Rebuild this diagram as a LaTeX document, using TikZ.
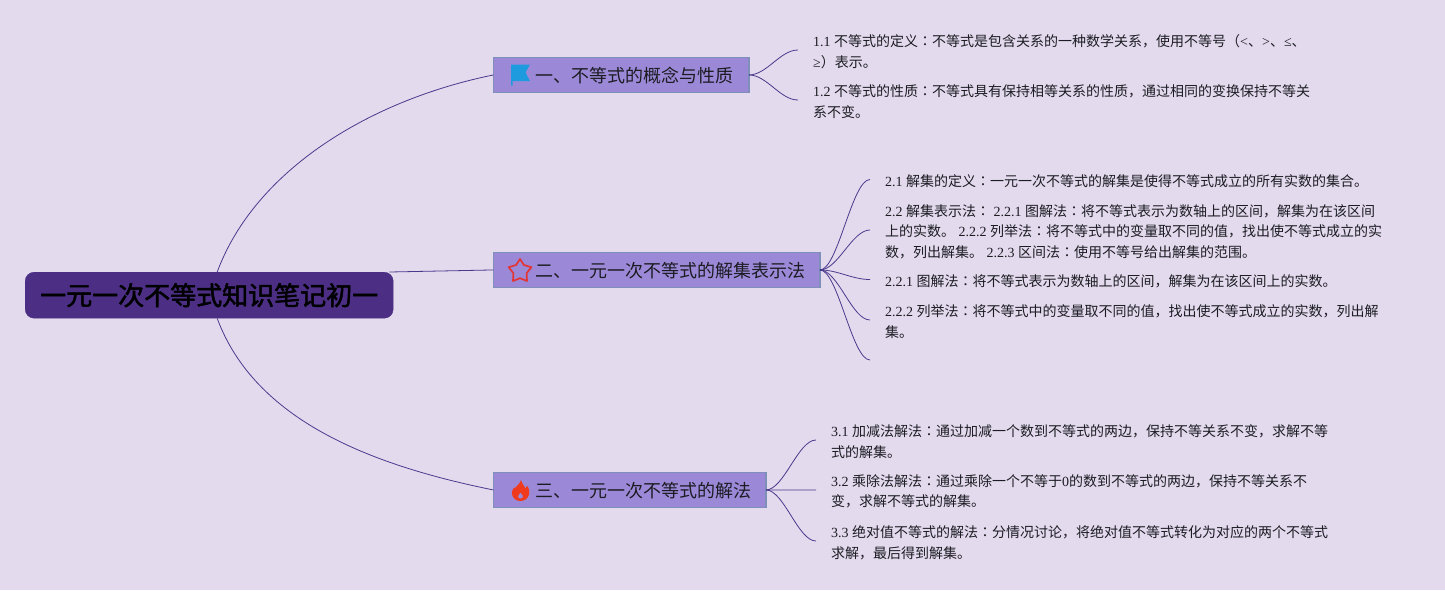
\documentclass[tikz,border=0pt]{standalone}
\usepackage{fontspec}
\setmainfont{Noto Sans CJK SC}
\newfontfamily\latf{Liberation Serif}
\newfontfamily\tcf{Noto Sans CJK TC}
\newfontfamily\rootf[FakeBold=2]{Noto Sans CJK SC}
\newcommand\latn[1]{{\latf #1}}
\newcommand\zhcolon{{\tcf ：}}
\definecolor{bg}{HTML}{E3DAEE}
\definecolor{rootfill}{HTML}{4C2F84}
\definecolor{branchfill}{HTML}{9B89D8}
\definecolor{branchline}{HTML}{7E90BA}
\definecolor{linkc}{HTML}{4A3A8C}
\definecolor{txt}{HTML}{1C1C22}
\definecolor{flagc}{HTML}{1E9BDE}
\definecolor{starc}{HTML}{E23434}
\definecolor{flamec}{HTML}{F03A1E}
\tikzset{
  rootbox/.style={draw=rootfill,fill=rootfill,rounded corners=9pt,minimum width=368pt,minimum height=46pt,inner sep=0pt,anchor=north west,font=\fontsize{26}{30}\rootf,text=black},
  branchbox/.style={draw=branchline,fill=branchfill,line width=1.2pt,minimum height=35.5pt,inner sep=0pt,outer sep=0pt,anchor=north west},
  branchtext/.style={anchor=west,inner sep=0pt,font=\fontsize{18}{22}\selectfont,text=txt},
  leaf/.style={anchor=west,inner xsep=15pt,inner ysep=0pt,align=left,font=\fontsize{14}{20.6}\selectfont,text=txt},
  link/.style={draw=linkc,line width=0.8pt},
  sub/.style={draw=linkc,line width=0.8pt,out=0,in=180,distance=18pt}
}
\begin{document}
\begin{tikzpicture}[x=1pt,y=-1pt]
\useasboundingbox (0,0) rectangle (1445,590);
\fill[bg] (0,0) rectangle (1445,590);

\node[rootbox] (root) at (25,272) {一元一次不等式知识笔记初一};

\node[branchbox,minimum width=255.5pt] (b1) at (493.4,57.2) {};
\node[branchtext] (t1) at (535,76) {一、不等式的概念与性质};
\node[branchbox,minimum width=326.5pt] (b2) at (493.4,252.2) {};
\node[branchtext] (t2) at (535,271) {二、一元一次不等式的解集表示法};
\node[branchbox,minimum width=272.5pt] (b3) at (493.4,472.2) {};
\node[branchtext] (t3) at (535,491) {三、一元一次不等式的解法};

% icons
\fill[flagc] (511,64.5) -- (530,64.5) -- (525.5,72.5) -- (530,81) -- (512.5,81) -- (512.5,85.5) -- (511,85.5) -- cycle;
\draw[starc,line width=1.7pt,line join=round]
  (520,259) -- (523.9,265.0) -- (531.4,267.2) -- (526.6,273.2) -- (527,281) -- (520,278.2) -- (513,281) -- (513.4,273.2) -- (508.6,267.2) -- (516.1,265.0) -- cycle;
\fill[flamec,even odd rule]
  (521,480) .. controls (522,484) and (524,485) .. (525.5,488.5)
  .. controls (527,487.5) and (527.2,487) .. (527,485.5)
  .. controls (529.5,489) and (529.8,492) .. (529,494.5)
  .. controls (528,498.5) and (524.5,501) .. (520.5,501)
  .. controls (516,501) and (512.5,498) .. (512,494)
  .. controls (511.5,490) and (514,487) .. (515.5,487.5)
  .. controls (517.5,486) and (519.5,483.5) .. (521,480) -- cycle
  (520.5,492.5) .. controls (519,494.5) and (517.8,495.5) .. (518,497)
  .. controls (518.5,499) and (522.5,499) .. (523,497)
  .. controls (523.3,495.5) and (522,494) .. (520.5,492.5) -- cycle;

% leaves
\node[leaf] (l11) at (798,51.5) {\latn{1.1 }不等式的定义\zhcolon 不等式是包含关系的一种数学关系，使用不等号（\latn{<}、\latn{>}、\latn{≤}、\\\latn{≥}）表示。};
\node[leaf] (l12) at (798,101.5) {\latn{1.2 }不等式的性质\zhcolon 不等式具有保持相等关系的性质，通过相同的变换保持不等关\\系不变。};

\node[leaf] (l21) at (870,181) {\latn{2.1 }解集的定义\zhcolon 一元一次不等式的解集是使得不等式成立的所有实数的集合。};
\node[leaf] (l22) at (870,231.5) {\latn{2.2 }解集表示法\zhcolon\latn{ 2.2.1 }图解法\zhcolon 将不等式表示为数轴上的区间，解集为在该区间\\上的实数。\latn{ 2.2.2 }列举法\zhcolon 将不等式中的变量取不同的值，找出使不等式成立的实\\数，列出解集。\latn{ 2.2.3 }区间法\zhcolon 使用不等号给出解集的范围。};
\node[leaf] (l23) at (870,281) {\latn{2.2.1 }图解法\zhcolon 将不等式表示为数轴上的区间，解集为在该区间上的实数。};
\node[leaf] (l24) at (870,321.5) {\latn{2.2.2 }列举法\zhcolon 将不等式中的变量取不同的值，找出使不等式成立的实数，列出解\\集。};
\coordinate (l25) at (870,360);

\node[leaf] (l31) at (816,441.5) {\latn{3.1 }加减法解法\zhcolon 通过加减一个数到不等式的两边，保持不等关系不变，求解不等\\式的解集。};
\node[leaf] (l32) at (816,491.5) {\latn{3.2 }乘除法解法\zhcolon 通过乘除一个不等于\latn{0}的数到不等式的两边，保持不等关系不\\变，求解不等式的解集。};
\node[leaf] (l33) at (816,542.5) {\latn{3.3 }绝对值不等式的解法\zhcolon 分情况讨论，将绝对值不等式转化为对应的两个不等式\\求解，最后得到解集。};

% connectors
\draw[link] ([xshift=8pt]root.north) .. controls (255,170) and (370,100) .. (b1.west);
\draw[link] ([xshift=-4pt]root.north east) -- (b2.west);
\draw[link] ([xshift=8pt]root.south) .. controls (255,420) and (370,465) .. (b3.west);

\foreach \t in {l11,l12} \draw[sub] (b1.east) to ([yshift=1.5pt]\t.west);
\foreach \t in {l21,l22,l23,l24} \draw[sub] (b2.east) to ([yshift=1.5pt]\t.west);
\draw[sub] (b2.east) to (l25);
\foreach \t in {l31,l32,l33} \draw[sub] (b3.east) to ([yshift=1.5pt]\t.west);
\end{tikzpicture}
\end{document}
